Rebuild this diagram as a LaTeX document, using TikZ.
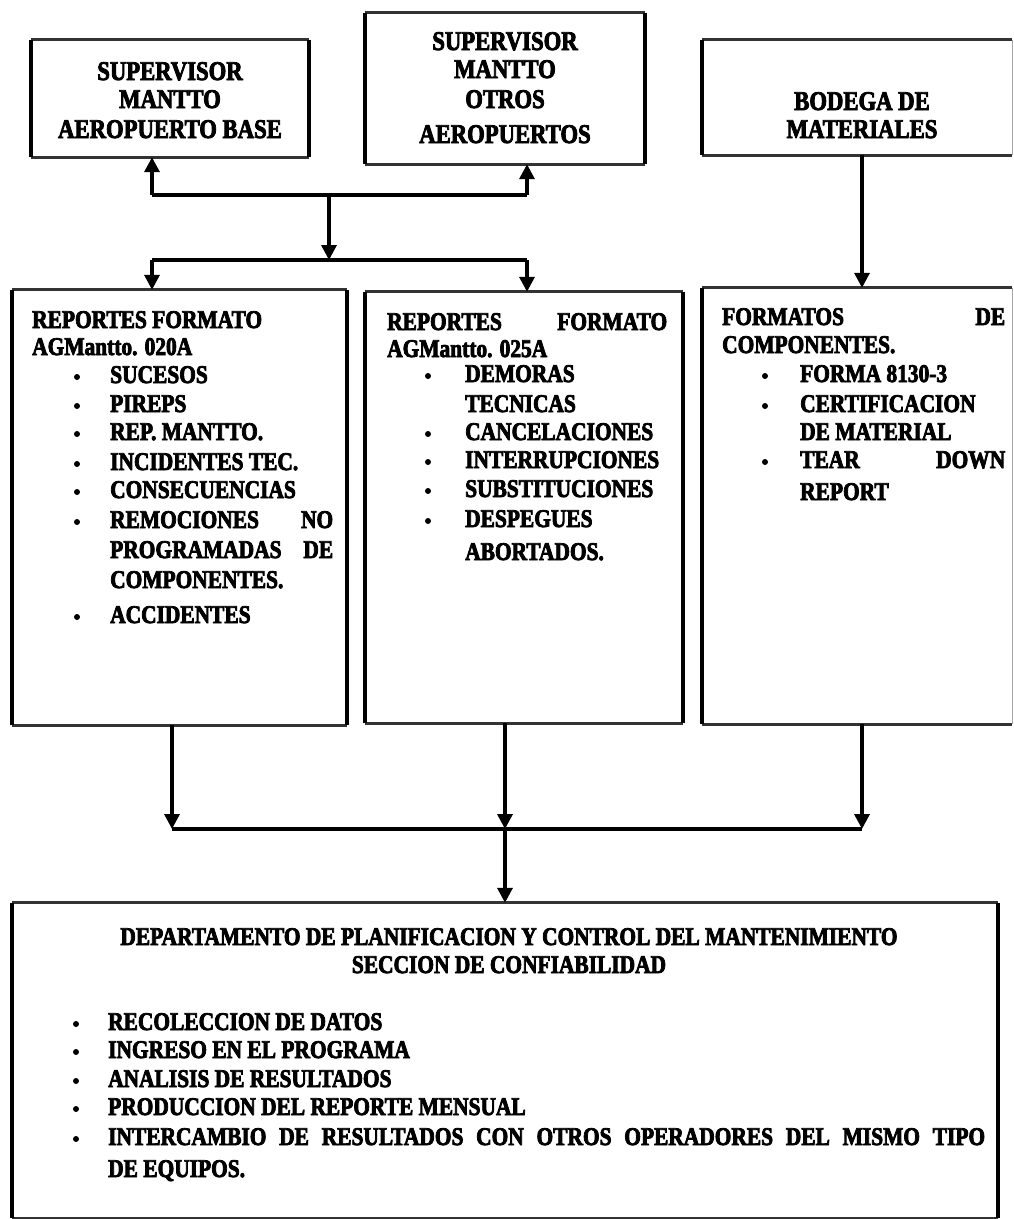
\documentclass[tikz,border=0pt]{standalone}
\usepackage{fontspec}
\newfontfamily\dfont{Liberation Serif}[BoldFeatures={FakeStretch=0.84,FakeBold=3}]
\usetikzlibrary{arrows.meta}
\tikzset{
  box/.style={draw=none, rectangle, inner sep=0pt},
  sidel/.style={line width=4pt, black},
  tbl/.style={line width=3.2pt, black!80},
  faint/.style={line width=1pt, black!35},
  txt/.style={anchor=base west, inner sep=0pt, font=\dfont\bfseries\fontsize{25.5}{29}\selectfont},
  ttl/.style={anchor=base, inner sep=0pt, font=\dfont\bfseries\fontsize{27}{29}\selectfont},
  ctr/.style={anchor=base, inner sep=0pt, font=\dfont\bfseries\fontsize{25.5}{29}\selectfont},
  dot/.style={circle, fill=black, inner sep=0pt, minimum size=6pt},
  conn/.style={line width=3.4pt, black},
  arr/.style={conn, -{Triangle[width=15pt,length=15pt]}},
}
\newcommand\drawmybox[2]{%
  \draw[tbl] (#1.north west) -- (#1.north east);
  \draw[tbl] (#1.south west) -- (#1.south east);
  \draw[sidel] (#1.north west) -- (#1.south west);
  \draw[sidel,#2] (#1.north east) -- (#1.south east);}
\begin{document}
\begin{tikzpicture}[x=1pt,y=-1pt]
\useasboundingbox[fill=white] (0,0) rectangle (1013,1219);
% boxes
\node[box, minimum width=278pt, minimum height=117pt] (A) at (170,98.5) {};
\node[box, minimum width=280pt, minimum height=151pt] (B) at (505,88.5) {};
\node[box, minimum width=310pt, minimum height=115pt] (C) at (857,97.5) {};
\node[box, minimum width=335pt, minimum height=435pt] (D) at (179.5,507.5) {};
\node[box, minimum width=318pt, minimum height=431pt] (E) at (524,507.5) {};
\node[box, minimum width=310pt, minimum height=436pt] (F) at (857,506) {};
\node[box, minimum width=986pt, minimum height=315pt] (G) at (505,1060.5) {};
\drawmybox{A}{}
\drawmybox{B}{}
\drawmybox{C}{faint}
\drawmybox{D}{}
\drawmybox{E}{}
\drawmybox{F}{faint}
\drawmybox{G}{}

% top texts
\node[ttl] (a1) at (170,80) {SUPERVISOR};
\node[ttl] (a2) at (170,108) {MANTTO};
\node[ttl] (a3) at (170,138) {AEROPUERTO BASE};
\node[ttl] (b1) at (505,50) {SUPERVISOR};
\node[ttl] (b2) at (505,78) {MANTTO};
\node[ttl] (b3) at (505,108) {OTROS};
\node[ttl] (b4) at (505,143) {AEROPUERTOS};
\node[ttl] (c1) at (862,110) {BODEGA DE};
\node[ttl] (c2) at (862,138) {MATERIALES};

% box D
\node[txt] (d0) at (32,328) {REPORTES FORMATO};
\node[txt] (d00) at (32,355) {AGMantto. 020A};
\node[dot] (dd1) at (77,377) {};
\node[txt] (d1) at (110,383) {SUCESOS};
\node[dot] (dd2) at (77,406) {};
\node[txt] (d2) at (110,412) {PIREPS};
\node[dot] (dd3) at (77,434) {};
\node[txt] (d3) at (110,440) {REP. MANTTO.};
\node[dot] (dd4) at (77,464) {};
\node[txt] (d4) at (110,470) {INCIDENTES TEC.};
\node[dot] (dd5) at (77,492) {};
\node[txt] (d5) at (110,498) {CONSECUENCIAS};
\node[dot] (dd6) at (77,522) {};
\node[txt] (d6) at (110,528) {\makebox[223pt][s]{REMOCIONES NO}};
\node[txt] (d7) at (110,558) {\makebox[223pt][s]{PROGRAMADAS DE}};
\node[txt] (d8) at (110,588) {COMPONENTES.};
\node[dot] (dd9) at (77,617) {};
\node[txt] (d9) at (110,623) {ACCIDENTES};

% box E
\node[txt] (e0) at (387,330) {\makebox[280pt][s]{REPORTES FORMATO}};
\node[txt] (e00) at (387,357) {AGMantto. 025A};
\node[dot] (ee1) at (428,376) {};
\node[txt] (e1) at (465,382) {DEMORAS};
\node[txt] (e2) at (465,412) {TECNICAS};
\node[dot] (ee3) at (428,434) {};
\node[txt] (e3) at (465,440) {CANCELACIONES};
\node[dot] (ee4) at (428,462) {};
\node[txt] (e4) at (465,468) {INTERRUPCIONES};
\node[dot] (ee5) at (428,491) {};
\node[txt] (e5) at (465,497) {SUBSTITUCIONES};
\node[dot] (ee6) at (428,521) {};
\node[txt] (e6) at (465,527) {DESPEGUES};
\node[txt] (e7) at (465,560) {ABORTADOS.};

% box F
\node[txt] (f0) at (722,325) {\makebox[283pt][s]{FORMATOS DE}};
\node[txt] (f00) at (722,353) {COMPONENTES.};
\node[dot] (ff1) at (765,376) {};
\node[txt] (f1) at (800,382) {FORMA 8130-3};
\node[dot] (ff2) at (765,406) {};
\node[txt] (f2) at (800,412) {CERTIFICACION};
\node[txt] (f3) at (800,440) {DE MATERIAL};
\node[dot] (ff4) at (765,462) {};
\node[txt] (f4) at (800,468) {\makebox[205pt][s]{TEAR DOWN}};
\node[txt] (f5) at (800,500) {REPORT};

% box G
\node[ctr] (g1) at (509,945) {DEPARTAMENTO DE PLANIFICACION Y CONTROL DEL MANTENIMIENTO};
\node[ctr] (g2) at (509,973) {SECCION DE CONFIABILIDAD};
\node[dot] (gg3) at (76,1024) {};
\node[txt] (g3) at (108,1030) {RECOLECCION DE DATOS};
\node[dot] (gg4) at (76,1052) {};
\node[txt] (g4) at (108,1058) {INGRESO EN EL PROGRAMA};
\node[dot] (gg5) at (76,1081) {};
\node[txt] (g5) at (108,1087) {ANALISIS DE RESULTADOS};
\node[dot] (gg6) at (76,1109) {};
\node[txt] (g6) at (108,1115) {PRODUCCION DEL REPORTE MENSUAL};
\node[dot] (gg7) at (76,1139) {};
\node[txt] (g7) at (108,1145) {\makebox[877pt][s]{INTERCAMBIO DE RESULTADOS CON OTROS OPERADORES DEL MISMO TIPO}};
\node[txt] (g8) at (108,1177) {DE EQUIPOS.};

% connectors top
\coordinate (hA) at (152,195);
\coordinate (hB) at (527,195);
\coordinate (m1) at (329,195);
\coordinate (m2) at (329,260);
\coordinate (h2A) at (152,260);
\coordinate (h2B) at (527,260);
\coordinate (cC) at (862,0);
\draw[conn] (hA) -- (hB);
\draw[arr] (hA) -- (hA |- A.south);
\draw[arr] (hB) -- (hB |- B.south);
\draw[arr] (m1) -- (m2);
\draw[conn] (h2A) -- (h2B);
\draw[arr] (h2A) -- (h2A |- D.north);
\draw[arr] (h2B) -- (h2B |- E.north);
\draw[arr] (cC |- C.south) -- (cC |- F.north);

% connectors bottom
\coordinate (q1) at (172,829);
\coordinate (qm) at (505,829);
\coordinate (q3) at (862,829);
\draw[arr] (q1 |- D.south) -- (q1);
\draw[arr] (qm |- E.south) -- (qm);
\draw[arr] (q3 |- F.south) -- (q3);
\draw[conn] (q1) -- (q3);
\draw[arr] (qm) -- (qm |- G.north);
\end{tikzpicture}
\end{document}
